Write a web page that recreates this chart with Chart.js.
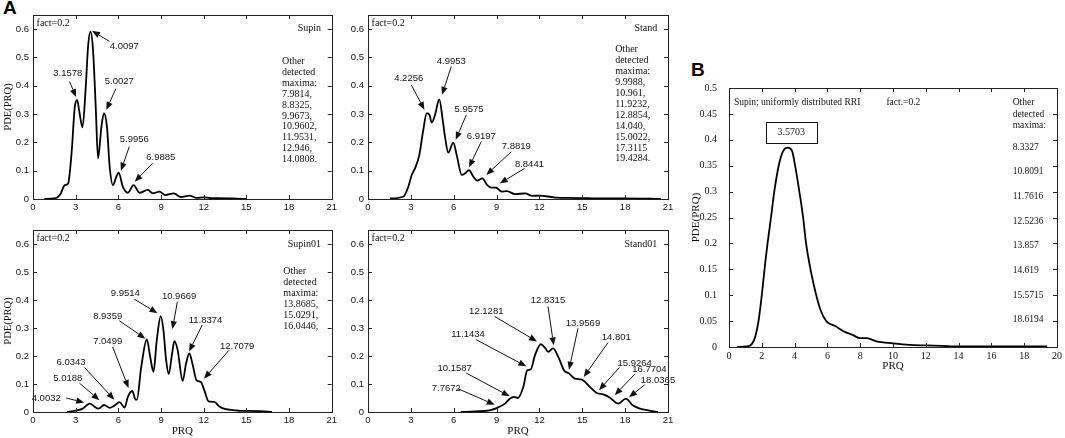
<!DOCTYPE html>
<html>
<head>
<meta charset="utf-8">
<script src="https://cdn.jsdelivr.net/npm/chart.js@4.4.1/dist/chart.umd.min.js"></script>
<style>
  html, body { margin: 0; padding: 0; background: #fff; }
  body { width: 1065px; height: 438px; position: relative; overflow: hidden; }
  .pane { position: absolute; }
  .tag { position: absolute; font: bold 19px "Liberation Sans", Arial, sans-serif; color: #000; }
</style>
</head>
<body>
<div class="tag" style="left:3px;top:-3px">A</div>
<div class="tag" style="left:691px;top:59px">B</div>
<div class="pane" style="left:0;top:0;width:340px;height:215px"><canvas id="supin"></canvas></div>
<div class="pane" style="left:340px;top:0;width:340px;height:215px"><canvas id="stand"></canvas></div>
<div class="pane" style="left:0;top:215px;width:340px;height:223px"><canvas id="supin01"></canvas></div>
<div class="pane" style="left:340px;top:215px;width:340px;height:223px"><canvas id="stand01"></canvas></div>
<div class="pane" style="left:680px;top:60px;width:385px;height:320px"><canvas id="uniform"></canvas></div>
<script>
// ── Curves (PRQ vs PDE(PRQ)) ──────────────────────────────────────────
const supinX = [0.8, 1.5, 1.89, 2.24, 2.47, 2.71, 2.94, 3.1, 3.24, 3.48, 3.71, 3.87, 4.04, 4.22, 4.41, 4.57, 4.81, 4.99, 5.2, 5.39, 5.62, 5.86, 6.02, 6.32, 6.67, 7.07, 7.49, 8.07, 8.42, 8.89, 9.3, 9.9, 10.4, 11.0, 11.5, 12.0, 12.5, 13.0, 14.0, 15.0];
const supinY = [0, 0.002, 0.014, 0.049, 0.055, 0.161, 0.326, 0.35, 0.314, 0.253, 0.397, 0.538, 0.591, 0.526, 0.326, 0.144, 0.255, 0.303, 0.255, 0.114, 0.049, 0.079, 0.093, 0.043, 0.022, 0.049, 0.022, 0.032, 0.02, 0.026, 0.014, 0.02, 0.007, 0.012, 0.004, 0.006, 0.003, 0.003, 0.002, 0];

const standX = [1.54, 2.47, 2.82, 3.06, 3.29, 3.59, 3.87, 4.11, 4.3, 4.46, 4.69, 4.99, 5.23, 5.39, 5.62, 5.97, 6.21, 6.56, 6.79, 7.07, 7.37, 7.65, 8.0, 8.35, 8.65, 8.96, 9.36, 9.71, 10.3, 11.0, 11.5, 12.0, 13.0, 14.0, 15.0, 16.0, 18.0, 20.5];
const standY = [0.002, 0.008, 0.043, 0.085, 0.108, 0.155, 0.244, 0.303, 0.297, 0.27, 0.297, 0.352, 0.279, 0.22, 0.164, 0.199, 0.155, 0.085, 0.09, 0.102, 0.079, 0.065, 0.073, 0.049, 0.04, 0.04, 0.026, 0.028, 0.017, 0.02, 0.011, 0.012, 0.006, 0.004, 0.003, 0.002, 0.002, 0];

const supin01X = [2.4, 3.0, 3.5, 3.8, 4.0, 4.3, 4.6, 5.0, 5.4, 5.7, 6.09, 6.44, 6.67, 6.98, 7.21, 7.3, 7.61, 8.0, 8.24, 8.47, 8.7, 8.98, 9.17, 9.36, 9.54, 9.78, 9.94, 10.17, 10.52, 10.76, 10.99, 11.22, 11.5, 11.8, 12.04, 12.34, 12.74, 13.1, 13.56, 14.1, 14.6, 15.0, 16.0, 16.8];
const supin01Y = [0, 0.005, 0.012, 0.025, 0.03, 0.02, 0.012, 0.025, 0.015, 0.022, 0.035, 0.016, 0.054, 0.075, 0.044, 0.044, 0.161, 0.259, 0.197, 0.143, 0.256, 0.342, 0.292, 0.185, 0.135, 0.209, 0.253, 0.221, 0.111, 0.173, 0.209, 0.17, 0.113, 0.107, 0.078, 0.038, 0.036, 0.02, 0.01, 0.007, 0.004, 0.004, 0.003, 0];

const stand01X = [6.5, 7.5, 8.5, 9.0, 9.59, 9.94, 10.22, 10.5, 10.87, 11.15, 11.39, 11.69, 12.1, 12.38, 12.62, 12.95, 13.32, 13.72, 14.09, 14.49, 14.96, 15.54, 16.01, 16.47, 16.94, 17.52, 18.05, 18.53, 19.04, 19.7, 20.3];
const stand01Y = [0, 0.002, 0.006, 0.014, 0.03, 0.048, 0.054, 0.05, 0.089, 0.149, 0.152, 0.203, 0.242, 0.23, 0.215, 0.227, 0.197, 0.149, 0.137, 0.119, 0.116, 0.089, 0.068, 0.063, 0.051, 0.03, 0.048, 0.024, 0.012, 0.005, 0];

const uniformX = [0.5, 1.1, 1.4, 1.6, 1.8, 2.0, 2.2, 2.35, 2.56, 2.76, 3.03, 3.3, 3.58, 3.85, 4.03, 4.29, 4.52, 4.7, 4.97, 5.32, 5.6, 5.93, 6.5, 7.0, 7.5, 8.0, 8.4, 9.0, 10.0, 11.0, 12.0, 13.0, 14.0, 16.0, 19.4];
const uniformY = [0, 0.001, 0.006, 0.02, 0.05, 0.1, 0.16, 0.2, 0.25, 0.3, 0.35, 0.378, 0.385, 0.378, 0.35, 0.3, 0.25, 0.2, 0.15, 0.1, 0.07, 0.05, 0.04, 0.03, 0.024, 0.017, 0.017, 0.011, 0.007, 0.004, 0.003, 0.002, 0.001, 0.001, 0.001];

// ── Tick values ──────────────────────────────────────────────────────
const ticksAX = [0, 3, 6, 9, 12, 15, 18, 21];
const ticksAY = [0, 0.1, 0.2, 0.3, 0.4, 0.5, 0.6];
const ticksBX = [0, 2, 4, 6, 8, 10, 12, 14, 16, 18, 20];
const ticksBY = [0, 0.05, 0.1, 0.15, 0.2, 0.25, 0.3, 0.35, 0.4, 0.45, 0.5];

// ── Labelled maxima (text, label centre, arrow start, arrow tip) ─────
const supinPeaks = [
  ['3.1578', 2.45, 0.445, 2.57, 0.415, 3.03, 0.36],
  ['4.0097', 6.42, 0.54, 5.37, 0.557, 4.15, 0.594],
  ['5.0027', 6.07, 0.417, 5.83, 0.39, 5.15, 0.315],
  ['5.9956', 7.12, 0.212, 6.77, 0.185, 6.18, 0.1],
  ['6.9885', 8.98, 0.147, 8.4, 0.126, 7.15, 0.061],
];
const standPeaks = [
  ['4.2256', 2.85, 0.425, 3.03, 0.403, 3.95, 0.315],
  ['4.9953', 5.83, 0.486, 5.83, 0.468, 5.18, 0.368],
  ['5.9575', 7.07, 0.315, 6.88, 0.297, 6.14, 0.209],
  ['6.9197', 7.93, 0.22, 7.93, 0.203, 7.07, 0.112],
  ['7.8819', 10.38, 0.185, 10.03, 0.167, 8.28, 0.085],
  ['8.8441', 11.3, 0.123, 10.96, 0.108, 9.22, 0.055],
];
const supin01Peaks = [
  ['4.0032', 0.93, 0.05, 2.33, 0.05, 3.6, 0.034],
  ['5.0188', 2.45, 0.121, 3.27, 0.103, 4.67, 0.042],
  ['6.0343', 2.68, 0.177, 3.62, 0.159, 5.72, 0.044],
  ['7.0499', 5.25, 0.252, 5.6, 0.232, 6.72, 0.086],
  ['8.9359', 5.25, 0.341, 6.07, 0.326, 7.9, 0.262],
  ['9.9514', 6.49, 0.422, 7.12, 0.403, 8.75, 0.353],
  ['10.9669', 10.27, 0.412, 10.15, 0.394, 9.8, 0.296],
  ['11.8374', 12.13, 0.329, 11.9, 0.311, 10.97, 0.216],
  ['12.7079', 14.35, 0.236, 13.77, 0.22, 12.02, 0.119],
];
const stand01Peaks = [
  ['7.7672', 5.48, 0.083, 6.3, 0.083, 8.87, 0.026],
  ['10.1587', 6.07, 0.157, 6.88, 0.139, 9.92, 0.056],
  ['11.1434', 7.0, 0.276, 7.58, 0.258, 11.08, 0.163],
  ['12.1281', 8.28, 0.361, 8.87, 0.341, 11.83, 0.252],
  ['12.8315', 12.6, 0.397, 12.6, 0.377, 13.0, 0.238],
  ['13.9569', 15.05, 0.317, 14.7, 0.299, 14.07, 0.151],
  ['14.801', 17.38, 0.266, 16.8, 0.248, 15.1, 0.125],
  ['15.9264', 18.67, 0.175, 17.6, 0.159, 16.17, 0.078],
  ['16.7704', 19.7, 0.153, 18.67, 0.135, 17.27, 0.06],
  ['18.0365', 20.3, 0.112, 19.37, 0.097, 18.27, 0.053],
];

// ── "Other detected maxima" lists ────────────────────────────────────
const supinOther   = ['7.9814,', '8.8325,', '9.9673,', '10.9602,', '11.9531,', '12.946,', '14.0808.'];
const standOther   = ['9.9988,', '10.961,', '11.9232,', '12.8854,', '14.040,', '15.0022,', '17.3115', '19.4284.'];
const supin01Other = ['13.8685,', '15.0291,', '16.0446,'];
const uniformOther = ['8.3327', '10.8091', '11.7616', '12.5236', '13.857', '14.619', '15.5715', '18.6194'];

const SANS  = '"Liberation Sans", Arial, sans-serif';
const SERIF = '"Liberation Serif", "Times New Roman", serif';

// ── Frame with inward tick marks on all four sides ───────────────────
const framePlugin = {
  id: 'frame',
  afterDraw(chart) {
    const { ctx, chartArea: a, scales: { x, y } } = chart;
    ctx.save();
    ctx.strokeStyle = '#222';
    ctx.lineWidth = 1;
    ctx.strokeRect(Math.round(a.left) + 0.5, Math.round(a.top) + 0.5, Math.round(a.right - a.left), Math.round(a.bottom - a.top));
    ctx.beginPath();
    x.ticks.forEach(t => {
      const px = Math.round(x.getPixelForValue(t.value)) + 0.5;
      ctx.moveTo(px, a.bottom); ctx.lineTo(px, a.bottom - 4);
      ctx.moveTo(px, a.top);    ctx.lineTo(px, a.top + 4);
    });
    y.ticks.forEach(t => {
      const py = Math.round(y.getPixelForValue(t.value)) + 0.5;
      ctx.moveTo(a.left, py);  ctx.lineTo(a.left + 4, py);
      ctx.moveTo(a.right, py); ctx.lineTo(a.right - 4, py);
    });
    ctx.stroke();
    ctx.restore();
  },
};

// ── Arrows, labels and free text placed in data coordinates ──────────
function notesPlugin(p) {
  return {
    id: 'notes',
    afterDatasetsDraw(chart) {
      const { ctx, scales: { x, y } } = chart;
      const X = v => x.getPixelForValue(v), Y = v => y.getPixelForValue(v);
      ctx.save();
      ctx.fillStyle = '#111';
      ctx.strokeStyle = '#111';
      ctx.textBaseline = 'middle';

      (p.peaks || []).forEach(([t, lx, ly, sx, sy, tx, ty]) => {
        ctx.font = p.peakFont;
        ctx.textAlign = 'center';
        ctx.fillText(t, X(lx), Y(ly));
        const x0 = X(sx), y0 = Y(sy), x1 = X(tx), y1 = Y(ty);
        const ang = Math.atan2(y1 - y0, x1 - x0);
        const hl = 8, hw = 3.2;
        ctx.lineWidth = 1;
        ctx.beginPath();
        ctx.moveTo(x0, y0);
        ctx.lineTo(x1 - hl * Math.cos(ang), y1 - hl * Math.sin(ang));
        ctx.stroke();
        ctx.beginPath();
        ctx.moveTo(x1, y1);
        ctx.lineTo(x1 - hl * Math.cos(ang) + hw * Math.sin(ang), y1 - hl * Math.sin(ang) - hw * Math.cos(ang));
        ctx.lineTo(x1 - hl * Math.cos(ang) - hw * Math.sin(ang), y1 - hl * Math.sin(ang) + hw * Math.cos(ang));
        ctx.closePath();
        ctx.fill();
      });

      (p.texts || []).forEach(o => {
        ctx.font = o.font;
        ctx.textAlign = o.align || 'left';
        ctx.fillText(o.t, X(o.x), Y(o.y));
      });

      (p.lists || []).forEach(o => {
        ctx.font = o.font;
        ctx.textAlign = 'left';
        o.lines.forEach((s, i) => ctx.fillText(s, X(o.x), Y(o.y) + i * o.lh));
      });

      if (p.box) {
        const [bx0, bx1, by0, by1, t] = p.box;
        ctx.lineWidth = 1;
        ctx.strokeRect(Math.round(X(bx0)) + 0.5, Math.round(Y(by1)) + 0.5, Math.round(X(bx1) - X(bx0)), Math.round(Y(by0) - Y(by1)));
        ctx.font = '10px ' + SERIF;
        ctx.textAlign = 'center';
        ctx.fillText(t, (X(bx0) + X(bx1)) / 2, (Y(by0) + Y(by1)) / 2);
      }
      ctx.restore();
    },
  };
}

// ── One panel ────────────────────────────────────────────────────────
function makePanel(id, c) {
  const tickFont = { family: c.tickFamily, size: c.tickSize };
  return new Chart(document.getElementById(id), {
    type: 'line',
    data: {
      datasets: [{
        data: c.xs.map((v, i) => ({ x: v, y: c.ys[i] })),
        borderColor: '#000',
        borderWidth: 1.8,
        pointRadius: 0,
        fill: false,
        cubicInterpolationMode: 'monotone',
      }],
    },
    options: {
      responsive: true,
      maintainAspectRatio: false,
      animation: false,
      events: [],
      layout: { padding: { top: c.padTop, right: c.padRight, left: 0, bottom: 0 } },
      plugins: { legend: { display: false }, tooltip: { enabled: false } },
      scales: {
        x: {
          type: 'linear', min: 0, max: c.xMax,
          grid: { display: false, drawTicks: false },
          border: { display: false },
          afterBuildTicks: s => { s.ticks = c.xTicks.map(v => ({ value: v })); },
          afterFit: s => { s.height = c.xH; },
          ticks: { color: '#111', font: tickFont, padding: c.xPad, maxRotation: 0, callback: v => String(v) },
          title: c.xTitle
            ? { display: true, text: c.xTitle, color: '#111', font: { family: SERIF, size: c.xTitleSize }, padding: { top: 0, bottom: c.xTitlePad } }
            : { display: false },
        },
        y: {
          type: 'linear', min: 0, max: c.yMax,
          grid: { display: false, drawTicks: false },
          border: { display: false },
          afterBuildTicks: s => { s.ticks = c.yTicks.map(v => ({ value: v })); },
          afterFit: s => { s.width = c.yW; },
          ticks: { color: '#111', font: tickFont, padding: c.yPad, callback: v => String(v) },
          title: c.yTitle
            ? { display: true, text: 'PDE(PRQ)', color: '#111', font: { family: SERIF, size: c.yTitleSize }, padding: { top: c.yTitlePad, bottom: 0 } }
            : { display: false },
        },
      },
    },
    plugins: [framePlugin, notesPlugin(c.notes)],
  });
}

const panelA = {
  xMax: 21, yMax: 0.65, xTicks: ticksAX, yTicks: ticksAY,
  tickFamily: SANS, tickSize: 9.5, xPad: 3, yPad: 4,
  padTop: 15, padRight: 7, xTitleSize: 11, xTitlePad: 0, yTitleSize: 10.5, yTitlePad: 2,
};
const peakFont = '9.5px ' + SANS;
const noteFont = '10px ' + SERIF;
const head = ['Other', 'detected', 'maxima:'];

makePanel('supin', Object.assign({}, panelA, {
  xs: supinX, ys: supinY, yW: 33, xH: 16, yTitle: true,
  notes: {
    peaks: supinPeaks, peakFont,
    texts: [
      { t: 'fact=0.2', x: 0.25, y: 0.62, font: noteFont },
      { t: 'Supin', x: 20.25, y: 0.604, align: 'right', font: noteFont },
    ],
    lists: [{ lines: head.concat(supinOther), x: 17.5, y: 0.486, lh: 10.9, font: noteFont }],
  },
}));

makePanel('stand', Object.assign({}, panelA, {
  xs: standX, ys: standY, yW: 28, xH: 16, padRight: 12,
  notes: {
    peaks: standPeaks, peakFont,
    texts: [
      { t: 'fact=0.2', x: 0.25, y: 0.62, font: noteFont },
      { t: 'Stand', x: 20.25, y: 0.604, align: 'right', font: noteFont },
    ],
    lists: [{ lines: head.concat(standOther), x: 17.3, y: 0.527, lh: 10.9, font: noteFont }],
  },
}));

makePanel('supin01', Object.assign({}, panelA, {
  xs: supin01X, ys: supin01Y, yW: 33, xH: 26, yTitle: true, xTitle: 'PRQ',
  notes: {
    peaks: supin01Peaks, peakFont,
    texts: [
      { t: 'fact=0.2', x: 0.25, y: 0.62, font: noteFont },
      { t: 'Supin01', x: 20.25, y: 0.6, align: 'right', font: noteFont },
    ],
    lists: [{ lines: head.concat(supin01Other), x: 17.6, y: 0.501, lh: 10.9, font: noteFont }],
  },
}));

makePanel('stand01', Object.assign({}, panelA, {
  xs: stand01X, ys: stand01Y, yW: 28, xH: 26, xTitle: 'PRQ', padRight: 12,
  notes: {
    peaks: stand01Peaks, peakFont,
    texts: [
      { t: 'fact=0.2', x: 0.25, y: 0.62, font: noteFont },
      { t: 'Stand01', x: 20.25, y: 0.6, align: 'right', font: noteFont },
    ],
  },
}));

makePanel('uniform', {
  xs: uniformX, ys: uniformY,
  xMax: 20, yMax: 0.5, xTicks: ticksBX, yTicks: ticksBY,
  tickFamily: SERIF, tickSize: 10, xPad: 3, yPad: 12,
  padTop: 28, padRight: 8, yW: 49, xH: 33,
  xTitle: 'PRQ', xTitleSize: 11, xTitlePad: 7,
  yTitle: true, yTitleSize: 11, yTitlePad: 10,
  notes: {
    peakFont,
    texts: [
      { t: 'Supin; uniformly distributed RRI', x: 0.3, y: 0.472, font: '9.5px ' + SERIF },
      { t: 'fact.=0.2', x: 9.6, y: 0.472, font: '9.5px ' + SERIF },
      { t: 'Other', x: 17.3, y: 0.472, font: '9.5px ' + SERIF },
      { t: 'detected', x: 17.3, y: 0.449, font: '9.5px ' + SERIF },
      { t: 'maxima:', x: 17.3, y: 0.427, font: '9.5px ' + SERIF },
    ],
    lists: [{ lines: uniformOther, x: 17.3, y: 0.386, lh: 24.7, font: '9.5px ' + SERIF }],
    box: [2.24, 5.34, 0.395, 0.435, '3.5703'],
  },
});
</script>
</body>
</html>
